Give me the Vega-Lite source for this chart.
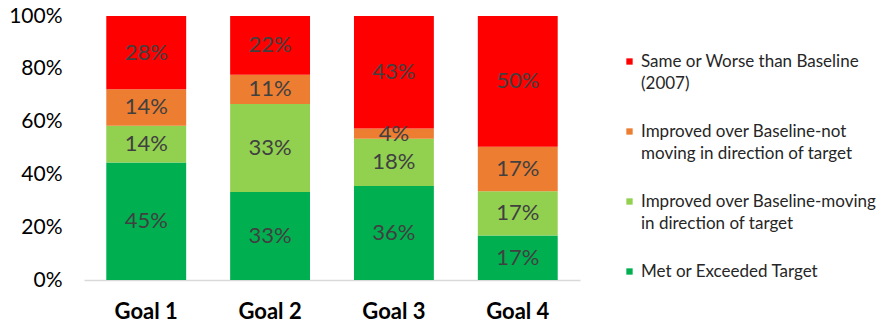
{
  "$schema": "https://vega.github.io/schema/vega-lite/v6.json",
  "width": 496,
  "height": 264,
  "autosize": {"type": "none"},
  "padding": {"left": 84, "top": 16, "right": 309, "bottom": 47},
  "config": {"font": "Lato", "view": {"stroke": null}},
  "data": {
    "values": [
      {"goal": "Goal 1", "cat": "Met or Exceeded Target", "o": 1, "v": 0.45},
      {"goal": "Goal 1", "cat": "Improved over Baseline-moving|in direction of target", "o": 2, "v": 0.14},
      {"goal": "Goal 1", "cat": "Improved over Baseline-not|moving in direction of target", "o": 3, "v": 0.14},
      {"goal": "Goal 1", "cat": "Same or Worse than Baseline|(2007)", "o": 4, "v": 0.28},
      {"goal": "Goal 2", "cat": "Met or Exceeded Target", "o": 1, "v": 0.33},
      {"goal": "Goal 2", "cat": "Improved over Baseline-moving|in direction of target", "o": 2, "v": 0.33},
      {"goal": "Goal 2", "cat": "Improved over Baseline-not|moving in direction of target", "o": 3, "v": 0.11},
      {"goal": "Goal 2", "cat": "Same or Worse than Baseline|(2007)", "o": 4, "v": 0.22},
      {"goal": "Goal 3", "cat": "Met or Exceeded Target", "o": 1, "v": 0.36},
      {"goal": "Goal 3", "cat": "Improved over Baseline-moving|in direction of target", "o": 2, "v": 0.18},
      {"goal": "Goal 3", "cat": "Improved over Baseline-not|moving in direction of target", "o": 3, "v": 0.04},
      {"goal": "Goal 3", "cat": "Same or Worse than Baseline|(2007)", "o": 4, "v": 0.43},
      {"goal": "Goal 4", "cat": "Met or Exceeded Target", "o": 1, "v": 0.17},
      {"goal": "Goal 4", "cat": "Improved over Baseline-moving|in direction of target", "o": 2, "v": 0.17},
      {"goal": "Goal 4", "cat": "Improved over Baseline-not|moving in direction of target", "o": 3, "v": 0.17},
      {"goal": "Goal 4", "cat": "Same or Worse than Baseline|(2007)", "o": 4, "v": 0.50}
    ]
  },
  "transform": [
    {"stack": "v", "groupby": ["goal"], "sort": [{"field": "o", "order": "ascending"}], "as": ["y0", "y1"], "offset": "normalize"},
    {"calculate": "(datum.y0 + datum.y1) / 2", "as": "ym"}
  ],
  "encoding": {
    "x": {
      "field": "goal", "type": "nominal", "title": null,
      "scale": {"paddingInner": 0.355, "paddingOuter": 0.18},
      "axis": {"labelAngle": 0, "labelFontSize": 22, "labelFontWeight": "bold", "labelColor": "#000000", "ticks": false, "domainColor": "#d9d9d9", "domainWidth": 1.5, "labelPadding": 21}
    }
  },
  "layer": [
    {
      "mark": {"type": "bar"},
      "encoding": {
        "y": {
          "field": "y0", "type": "quantitative", "title": null,
          "scale": {"domain": [0, 1]},
          "axis": {"values": [0, 0.2, 0.4, 0.6, 0.8, 1], "format": ".0%", "labelFontSize": 21, "labelColor": "#000000", "ticks": false, "domain": false, "grid": false, "labelPadding": 22}
        },
        "y2": {"field": "y1"},
        "color": {
          "field": "cat", "type": "nominal",
          "scale": {
            "domain": ["Same or Worse than Baseline|(2007)", "Improved over Baseline-not|moving in direction of target", "Improved over Baseline-moving|in direction of target", "Met or Exceeded Target"],
            "range": ["#FF0000", "#ED7D31", "#92D050", "#00B050"]
          },
          "legend": {
            "title": null, "orient": "none", "legendX": 537, "legendY": 37,
            "symbolType": "square", "symbolSize": 40, "symbolStrokeWidth": 0,
            "labelFontSize": 17, "labelColor": "#262626", "labelLimit": 300,
            "labelExpr": "split(datum.label, '|')", "rowPadding": 30, "labelOffset": 3,
            "encode": {"labels": {"update": {"lineHeight": {"value": 22}}}}
          }
        }
      }
    },
    {
      "mark": {"type": "text", "fontSize": 22, "color": "#404040"},
      "encoding": {
        "y": {"field": "ym", "type": "quantitative"},
        "text": {"field": "v", "type": "quantitative", "format": ".0%"}
      }
    }
  ]
}
